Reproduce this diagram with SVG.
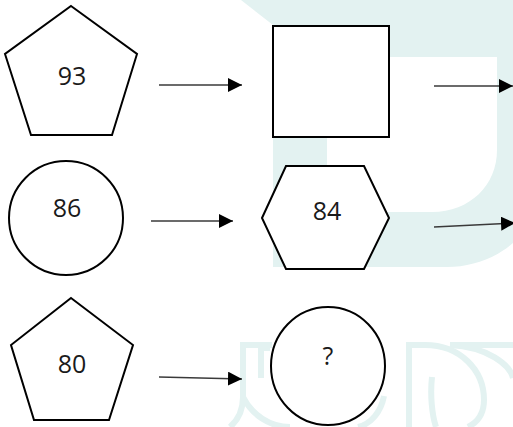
<svg xmlns="http://www.w3.org/2000/svg" width="513" height="427" viewBox="0 0 513 427">
  <style>
    .shape { fill: #ffffff; stroke: #000000; stroke-width: 2; stroke-linejoin: miter; }
    .label { font-family: "Open Sans", "Noto Sans", "Liberation Sans", sans-serif; font-size: 25px; fill: #1a1a1a; text-anchor: middle; }
    .link { stroke: #3a3a3a; stroke-width: 1.4; fill: none; marker-end: url(#head); }
    .mark { fill: #e3f2f1; }
    .markline { fill: none; stroke: #e3f2f1; stroke-width: 6; }
  </style>
  <defs>
    <marker id="head" viewBox="0 0 14 14" refX="14" refY="7" markerWidth="14" markerHeight="14" markerUnits="userSpaceOnUse" orient="auto">
      <path d="M0,0 L14,7 L0,14 Z" fill="#000000"/>
    </marker>
  </defs>

  <rect width="513" height="427" fill="#ffffff"/>

  <!-- background logo -->
  <g id="backdrop">
    <path class="mark" fill-rule="evenodd" d="M241,0 L513,0 L513,243 C496,258 472,267 447,267 L273,267 L273,25 Z M327,57 L497,57 L497,150 C497,185 470,212 432,212 L327,212 Z"/>
    <path class="markline" d="M240,345 L272,345 M243,345 L243,397 C243,410 238,420 230,427 M243,397 C252,415 270,427 290,427"/>
    <path class="markline" d="M261,345 L261,378 M258,348 L270,348"/>
    <path class="markline" d="M384,396 C381,412 371,424 358,427"/>
    <path class="markline" d="M409,345 L409,427 M406,345 L425,345 C460,345 484,370 484,400 C484,413 478,422 468,427"/>
    <path class="markline" d="M450,345 L513,345 M450,345 C488,347 510,365 513,378 M432,377 C430,395 432,415 436,427"/>
  </g>

  <g id="connectors">
    <line class="link" x1="159" y1="85" x2="242" y2="85"/>
    <line class="link" x1="434" y1="86" x2="513" y2="86"/>
    <line class="link" x1="151" y1="221" x2="233" y2="221"/>
    <line class="link" x1="434" y1="227" x2="515" y2="223"/>
    <line class="link" x1="159" y1="377" x2="242" y2="379"/>
  </g>

  <g id="pentagon-93">
    <polygon class="shape" points="71,6 137,54 112,135 31,135 5,54"/>
    <text class="label" x="72" y="85">93</text>
  </g>

  <g id="square">
    <rect class="shape" x="273" y="26" width="116" height="111"/>
  </g>

  <g id="circle-86">
    <circle class="shape" cx="66" cy="218" r="57"/>
    <text class="label" x="67" y="217">86</text>
  </g>

  <g id="hexagon-84">
    <polygon class="shape" points="262,218 286,166 364,166 389,218 364,269 286,269"/>
    <text class="label" x="327" y="220">84</text>
  </g>

  <g id="pentagon-80">
    <polygon class="shape" points="71,298 133,345 109,420 34,420 11,345"/>
    <text class="label" x="72" y="373">80</text>
  </g>

  <g id="circle-unknown">
    <ellipse class="shape" cx="328" cy="366" rx="57" ry="59"/>
    <text class="label" x="328" y="365">?</text>
  </g>
</svg>
